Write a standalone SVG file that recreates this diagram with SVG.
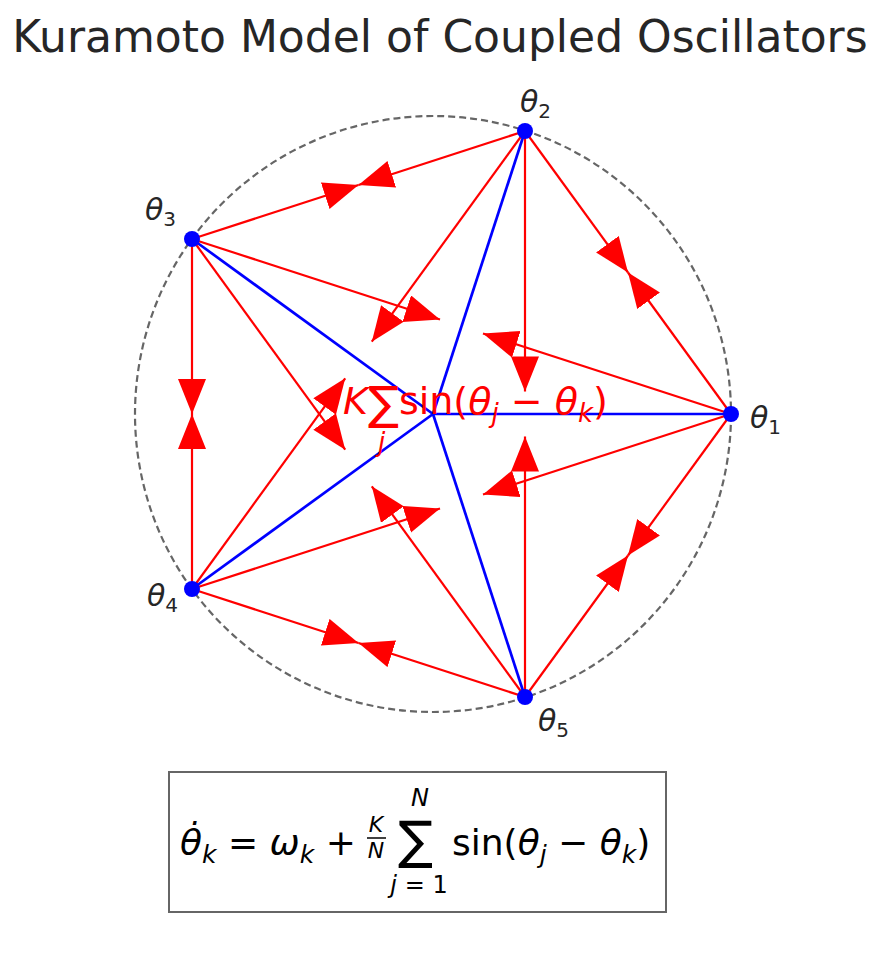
<svg xmlns="http://www.w3.org/2000/svg" width="888" height="979" viewBox="0 0 888 979">
<style>
text{font-family:"DejaVu Sans",sans-serif;fill:#262626}
.a{stroke:#ff0000;stroke-width:2.2;fill:none;marker-end:url(#h)}
.b{stroke:#0000ff;stroke-width:2.7}
.lbl{font-size:30px}
.i{font-style:italic}
</style>
<defs>
<marker id="h" markerUnits="userSpaceOnUse" markerWidth="36" markerHeight="30" refX="35" refY="14" orient="auto">
<path d="M0,0 L35,14 L0,28 z" fill="#ff0000"/>
</marker>
</defs>
<rect width="888" height="979" fill="#fff"/>
<text x="440" y="52" font-size="44" text-anchor="middle">Kuramoto Model of Coupled Oscillators</text>
<circle cx="433" cy="414" r="298" fill="none" stroke="#666" stroke-width="2.2" stroke-dasharray="7,4"/>
<g id="connectors">
<g class="blue">
<line class="b" x1="433" y1="414" x2="731" y2="414"/>
<line class="b" x1="433" y1="414" x2="525" y2="131"/>
<line class="b" x1="433" y1="414" x2="192" y2="239"/>
<line class="b" x1="433" y1="414" x2="192" y2="589"/>
<line class="b" x1="433" y1="414" x2="525" y2="697"/>
</g>
<path class="a" d="M731,414 L628,272.5"/>
<path class="a" d="M525,131 L628,272.5"/>
<path class="a" d="M525,131 L358.5,185"/>
<path class="a" d="M192,239 L358.5,185"/>
<path class="a" d="M192,239 L192,414"/>
<path class="a" d="M192,589 L192,414"/>
<path class="a" d="M192,589 L358.5,643"/>
<path class="a" d="M525,697 L358.5,643"/>
<path class="a" d="M525,697 L628,555.5"/>
<path class="a" d="M731,414 L628,555.5"/>
<path class="a" d="M731,414 L483,333.5"/>
<path class="a" d="M192,239 L440,319.5"/>
<path class="a" d="M731,414 L483,494.5"/>
<path class="a" d="M192,589 L440,508.5"/>
<path class="a" d="M525,131 L371.8,341.7"/>
<path class="a" d="M192,589 L345.2,378.3"/>
<path class="a" d="M525,131 L525,391.4"/>
<path class="a" d="M525,697 L525,436.6"/>
<path class="a" d="M192,239 L345.2,449.7"/>
<path class="a" d="M525,697 L371.8,486.3"/>
</g>
<g id="n1"><circle cx="731" cy="414" r="8" fill="#0000ff"/><text class="lbl" x="750" y="428"><tspan class="i">θ</tspan><tspan font-size="20" dy="6">1</tspan></text></g>
<g id="n2"><circle cx="525" cy="131" r="8" fill="#0000ff"/><text class="lbl" x="520" y="112"><tspan class="i">θ</tspan><tspan font-size="20" dy="6">2</tspan></text></g>
<g id="n3"><circle cx="192" cy="239" r="8" fill="#0000ff"/><text class="lbl" x="145" y="220"><tspan class="i">θ</tspan><tspan font-size="20" dy="6">3</tspan></text></g>
<g id="n4"><circle cx="192" cy="589" r="8" fill="#0000ff"/><text class="lbl" x="147" y="606"><tspan class="i">θ</tspan><tspan font-size="20" dy="6">4</tspan></text></g>
<g id="n5"><circle cx="525" cy="697" r="8" fill="#0000ff"/><text class="lbl" x="538" y="731"><tspan class="i">θ</tspan><tspan font-size="20" dy="6">5</tspan></text></g>
<g id="center-label">
<text x="343" y="414" font-size="38" style="fill:#ff0000"><tspan class="i">K</tspan><tspan font-size="46" dy="5">∑</tspan><tspan dy="-5">sin(</tspan><tspan class="i">θ</tspan><tspan class="i" font-size="26" dy="8">j</tspan><tspan dy="-8"> − </tspan><tspan class="i">θ</tspan><tspan class="i" font-size="26" dy="8">k</tspan><tspan dy="-8">)</tspan></text>
<text x="378" y="451" font-size="26" class="i" style="fill:#ff0000">j</text>
</g>
<g id="equation">
<rect x="169" y="772" width="497" height="140" fill="#fff" stroke="#666" stroke-width="2"/>
<text x="180" y="855" font-size="36" style="fill:#000"><tspan class="i">θ̇</tspan><tspan class="i" font-size="25" dy="8">k</tspan><tspan dy="-8"> = </tspan><tspan class="i">ω</tspan><tspan class="i" font-size="25" dy="8">k</tspan><tspan dy="-8"> + </tspan></text>
<text x="376" y="832" font-size="22" class="i" text-anchor="middle" style="fill:#000">K</text>
<line x1="367" y1="838" x2="386" y2="838" stroke="#000" stroke-width="1.5"/>
<text x="376" y="858" font-size="22" class="i" text-anchor="middle" style="fill:#000">N</text>
<text x="398" y="858" font-size="52" style="fill:#000">∑</text>
<text x="420" y="806" font-size="24" class="i" text-anchor="middle" style="fill:#000">N</text>
<text x="419" y="893" font-size="24" text-anchor="middle" style="fill:#000"><tspan class="i">j</tspan> = 1</text>
<text x="452" y="855" font-size="36" style="fill:#000">sin(<tspan class="i">θ</tspan><tspan class="i" font-size="25" dy="8">j</tspan><tspan dy="-8"> − </tspan><tspan class="i">θ</tspan><tspan class="i" font-size="25" dy="8">k</tspan><tspan dy="-8">)</tspan></text>
</g>
</svg>
